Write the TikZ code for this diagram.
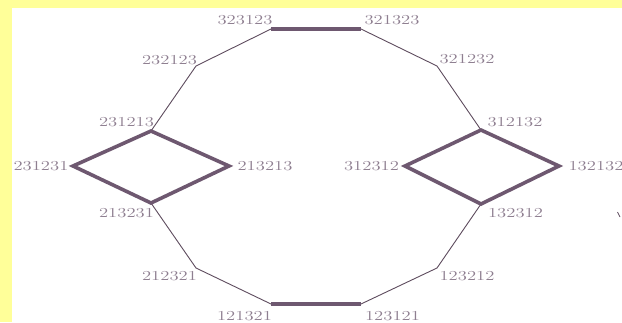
\documentclass[tikz,border=0pt]{standalone}
\usepackage{graphicx}
\definecolor{bgyellow}{HTML}{FFFF99}
\definecolor{thinline}{HTML}{5E4C5E}
\definecolor{thickline}{HTML}{6E5870}
\definecolor{labelcol}{HTML}{8E7E90}
\begin{document}
\begin{tikzpicture}[x=1pt,y=-1pt,
  thinedge/.style={draw=thinline,line width=0.9pt},
  thickedge/.style={draw=thickline,line width=3.6pt,line join=miter,line cap=butt},
  lbl/.style={inner sep=0pt,text=labelcol,font=\fontsize{13.7}{16}\selectfont}]
\useasboundingbox (0,0) rectangle (622,322);
\fill[bgyellow] (0,0) rectangle (622,322);
\fill[white] (12,8) rectangle (622,322);
% vertices
\coordinate (a) at (271,29);
\coordinate (b) at (361,29);
\coordinate (c) at (196,66);
\coordinate (d) at (437,66);
\coordinate (e) at (151,131);
\coordinate (f) at (481,130);
\coordinate (g) at (73,166);
\coordinate (h) at (229,166);
\coordinate (i) at (151,203);
\coordinate (j) at (405,166);
\coordinate (k) at (559,166);
\coordinate (l) at (481,204);
\coordinate (m) at (196,268);
\coordinate (n) at (437,268);
\coordinate (o) at (271,304);
\coordinate (p) at (361,304);
% thin edges
\draw[thinedge] (a) -- (c) -- (e);
\draw[thinedge] (b) -- (d) -- (f);
\draw[thinedge] (i) -- (m) -- (o);
\draw[thinedge] (l) -- (n) -- (p);
% thick edges
\draw[thickedge] (a) -- (b);
\draw[thickedge] (o) -- (p);
\draw[thickedge] (g) -- (e) -- (h) -- (i) -- cycle;
\draw[thickedge] (j) -- (f) -- (k) -- (l) -- cycle;
% labels
\node[lbl] (la) at (245,20.5) {\scalebox{1.36}[1]{323123}};
\node[lbl] (lb) at (392,20.5) {\scalebox{1.36}[1]{321323}};
\node[lbl] (lc) at (169.5,60) {\scalebox{1.36}[1]{232123}};
\node[lbl] (ld) at (467,59.5) {\scalebox{1.36}[1]{321232}};
\node[lbl] (le) at (126.5,122) {\scalebox{1.36}[1]{231213}};
\node[lbl] (lf) at (515,122) {\scalebox{1.36}[1]{312132}};
\node[lbl] (lg) at (41,166) {\scalebox{1.36}[1]{231231}};
\node[lbl] (lh) at (265,166) {\scalebox{1.36}[1]{213213}};
\node[lbl] (li) at (126.5,213) {\scalebox{1.36}[1]{213231}};
\node[lbl] (lj) at (371.5,166) {\scalebox{1.36}[1]{312312}};
\node[lbl] (lk) at (596,166) {\scalebox{1.36}[1]{132132}};
\node[lbl] (ll) at (515.5,213) {\scalebox{1.36}[1]{132312}};
\node[lbl] (lm) at (169.5,276) {\scalebox{1.36}[1]{212321}};
\node[lbl] (ln) at (467,276) {\scalebox{1.36}[1]{123212}};
\node[lbl] (lo) at (244.5,316) {\scalebox{1.36}[1]{121321}};
\node[lbl] (lp) at (392.5,316) {\scalebox{1.36}[1]{123121}};
% stray mark
\coordinate (s1) at (617.5,212);
\coordinate (s2) at (620,217);
\draw[thinline,line width=0.8pt] (s1) -- (s2);
\end{tikzpicture}
\end{document}
